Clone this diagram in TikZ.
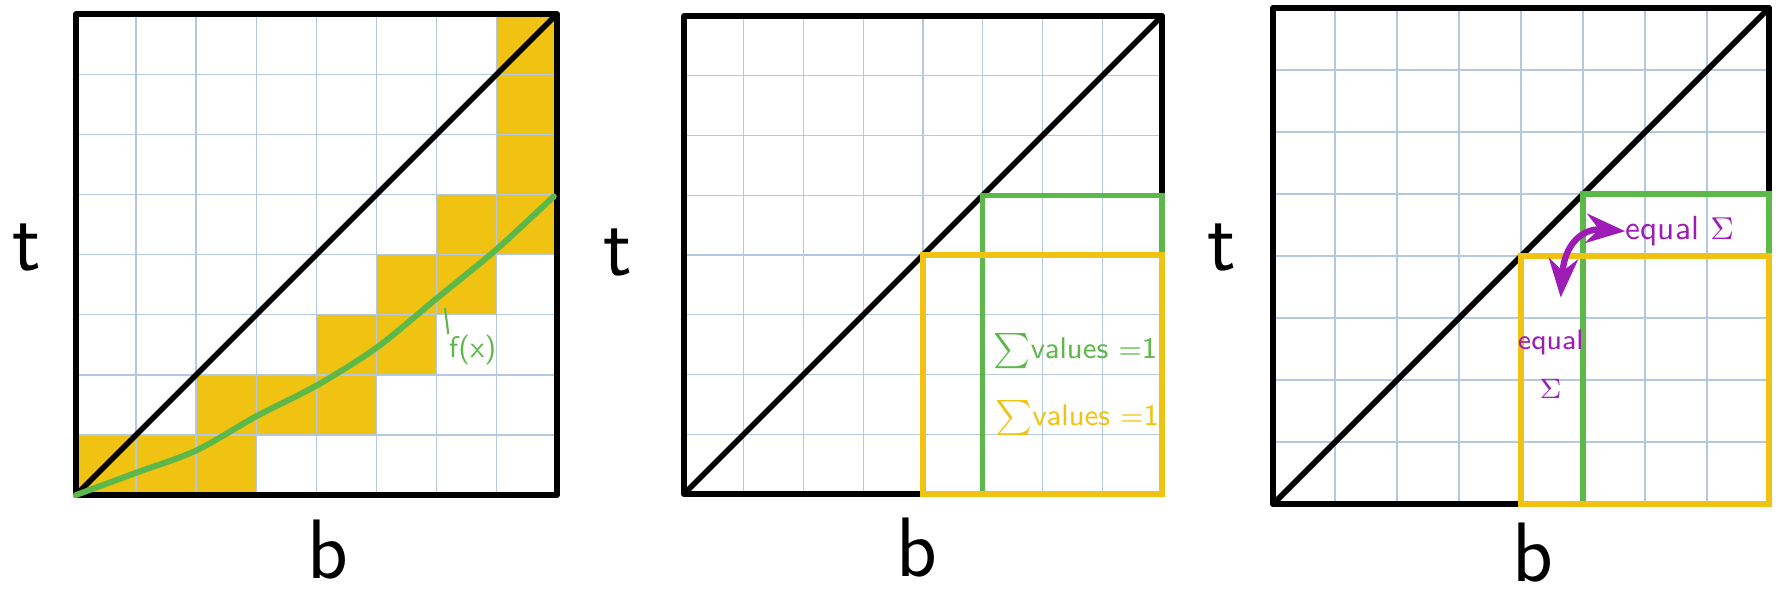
\documentclass[tikz,border=0pt]{standalone}
\usetikzlibrary{arrows.meta}
\definecolor{gridblue}{HTML}{B3C9E2}
\definecolor{gold}{HTML}{F0C212}
\definecolor{leaf}{HTML}{5DB84A}
\definecolor{plum}{HTML}{9E1CB6}
\begin{document}
\begin{tikzpicture}[
  frame/.style={line width=1.6pt, line join=round, line cap=round},
  gridline/.style={gridblue, line width=0.4pt},
  greenbox/.style={leaf, line width=1.5pt},
  goldbox/.style={gold, line width=1.5pt},
  axis/.style={font=\sffamily\fontsize{24}{24}\selectfont, inner sep=0pt},
  note/.style={font=\sffamily\fontsize{8.5}{8.5}\selectfont, inner sep=0pt},
  >={Stealth[]},
]
  \useasboundingbox (0,0) rectangle (17.82,5.94);
  % left panel: cells hit by f(x)
  \begin{scope}[shift={(0.76,0.99)}, scale=0.601]
    \foreach \c/\r in {0/0,1/0,2/0,2/1,3/1,4/1,4/2,5/2,5/3,6/3,6/4,7/4,7/5,7/6,7/7}
      \fill[gold] (\c,\r) rectangle ++(1,1);
    \draw[gridline] (0,0) grid (8,8);
    \draw[frame] (0,0) rectangle (8,8);
    \draw[frame] (0,0) -- (8,8);
    \draw[leaf, line width=1.7pt, line cap=round] plot[smooth] coordinates
      {(0,0) (1,0.37) (2,0.74) (3,1.31) (4,1.82) (5,2.45) (6,3.27) (7,4.09) (7.95,4.97)};
    \coordinate (fxtick) at (6.14,3.11);
    \node[note, leaf] (fx) at (6.6,2.42) {f(x)};
    \draw[leaf, line width=0.6pt] (fxtick) -- (fx.north west);
    \node[axis] (t1) at (-0.82,4.11) {t};
    \node[axis] (b1) at (4.19,-0.9) {b};
  \end{scope}
  % middle panel: the two sums
  \begin{scope}[shift={(6.84,1.0)}, scale=0.5975]
    \draw[gridline] (0,0) grid (8,8);
    \draw[frame] (4,0) -- (0,0) -- (0,8) -- (8,8) -- (8,5);
    \draw[frame] (0,0) -- (8,8);
    \draw[greenbox] (5,0) rectangle (8,5);
    \draw[goldbox] (4,0) rectangle (8,4);
    \node[note, leaf] (sumgreen) at (6.55,2.39) {$\sum$values $=$1};
    \node[note, gold] (sumgold) at (6.58,1.27) {$\sum$values $=$1};
    \node[axis] (t2) at (-1.1,4.05) {t};
    \node[axis] (b2) at (3.9,-0.9) {b};
  \end{scope}
  % right panel: equal sums
  \begin{scope}[shift={(12.73,0.9)}, scale=0.62]
    \draw[gridline] (0,0) grid (8,8);
    \draw[frame] (4,0) -- (0,0) -- (0,8) -- (8,8) -- (8,5);
    \draw[frame] (0,0) -- (8,8);
    \draw[greenbox] (5,0) rectangle (8,5);
    \draw[goldbox] (4,0) rectangle (8,4);
    \node[note, plum, anchor=west, font=\sffamily\fontsize{9.5}{9.5}\selectfont] (eqside) at (5.68,4.4) {equal $\Sigma$};
    \node[note, plum, align=center, font=\sffamily\fontsize{8}{14}\selectfont] (eqdown) at (4.48,2.25) {equal\\$\Sigma$};
    \coordinate (sumlow) at (4.64,3.33);
    \draw[plum, line width=1.8pt, <->] (sumlow) .. controls (4.7,4.2) and (5.0,4.45) .. (eqside.west);
    \node[axis] (t3) at (-0.82,4.13) {t};
    \node[axis] (b3) at (4.19,-0.78) {b};
  \end{scope}
\end{tikzpicture}
\end{document}
